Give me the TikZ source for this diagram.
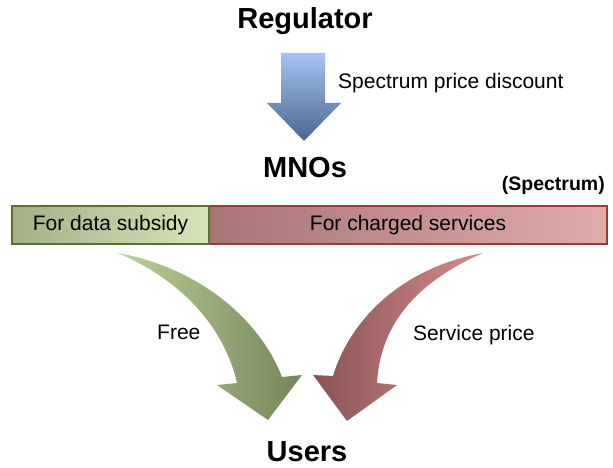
\documentclass[tikz,border=0pt]{standalone}
\usepackage{fontspec}
\setmainfont{Liberation Sans}
\definecolor{blueTop}{HTML}{A6C4F2}
\definecolor{blueBot}{HTML}{4B6690}
\definecolor{grnL}{HTML}{BCD098}
\definecolor{grnR}{HTML}{74855A}
\definecolor{redL}{HTML}{885454}
\definecolor{redR}{HTML}{D68C8A}
\definecolor{barGa}{HTML}{A4AF88}
\definecolor{barGb}{HTML}{D6E5B9}
\definecolor{barGe}{HTML}{5A7030}
\definecolor{barRa}{HTML}{A57474}
\definecolor{barRb}{HTML}{E3ACAC}
\definecolor{barRe}{HTML}{A03A3A}
\begin{document}
\begin{tikzpicture}[x=1pt,y=-1pt,
  hdr/.style={font=\fontsize{29}{34}\selectfont\bfseries, inner sep=0pt},
  lbl/.style={font=\fontsize{21}{25}\selectfont, inner sep=0pt},
  sub/.style={font=\fontsize{19.5}{23}\selectfont\bfseries, inner sep=0pt},
  barline/.style={line width=2.5pt},
]
\useasboundingbox (0,0) rectangle (613,468);

% texts
\node[hdr] (reg) at (305,21) {Regulator};
\node[hdr] (mno) at (305,168) {MNOs};
\node[hdr] (usr) at (307,452) {Users};
\node[lbl, anchor=west] (disc) at (338,83) {Spectrum price discount};
\node[sub, anchor=east] (spec) at (605,185) {(Spectrum)};

% blue arrow
\shade[top color=blueTop, bottom color=blueBot]
  (281,53) -- (325,53) -- (325,103) -- (341,103) -- (304,141) -- (267,103) -- (281,103) -- cycle;

% bar
\shade[shading angle=-70, left color=barGa, right color=barGb] (12,206) rectangle (209,244);
\shade[shading angle=-80, left color=barRa, right color=barRb] (209,206) rectangle (607,244);
\draw[barline, barRe] (209,206) rectangle (607,244);
\draw[barline, barGe] (12,206) rectangle (209,244);
\node[lbl] (sub1) at (110.5,225) {For data subsidy};
\node[lbl] (sub2) at (408,225) {For charged services};

% green curved arrow
\shade[left color=grnL, right color=grnR]
  (118,253) .. controls (200,268) and (260,320) .. (282,377)
  -- (302,375) -- (268,420) -- (217,385) -- (237,383)
  .. controls (225,330) and (185,282) .. (118,253) -- cycle;

% red curved arrow
\shade[left color=redL, right color=redR]
  (483,253) .. controls (401,268) and (350,320) .. (333,376)
  -- (313,375) -- (347,421) -- (397,385) -- (377,383)
  .. controls (380,330) and (410,285) .. (483,253) -- cycle;

\node[lbl, anchor=west] (free) at (157,332) {Free};
\node[lbl, anchor=west] (sprice) at (413,335) {Service price};
\end{tikzpicture}
\end{document}
